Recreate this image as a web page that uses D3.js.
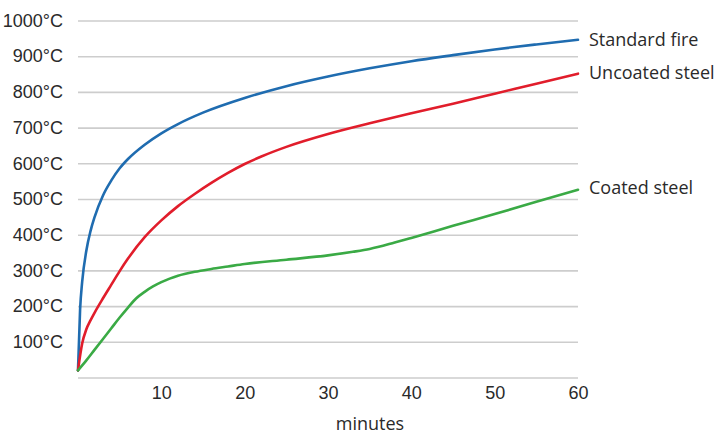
<!DOCTYPE html>
<html lang="en">
<head>
<meta charset="utf-8">
<title>Steel temperature in fire</title>
<script src="https://d3js.org/d3.v7.min.js"></script>
<style>
  body { margin: 0; background: #fff; }
  svg { display: block; font-family: "Open Sans", sans-serif; }
  .grid line { stroke: #cdcdcd; stroke-width: 1.6; }
  .grid path { display: none; }
  .axis path { display: none; }
  .axis text { fill: #2a2a2a; font-size: 18px; }
</style>
</head>
<body>
<script>
  // minutes and temperatures (°C)
  const fireMinutes = [0, 0.25, 0.5, 1, 1.5, 2, 3, 4, 5, 6, 8, 10, 12, 15, 20, 25, 30, 35, 40, 45, 50, 55, 60]
  const fireTemps = [20, 190, 268, 355, 410, 450, 510, 552, 586, 612, 652, 684, 710, 742, 783, 816, 843, 866, 886, 903, 919, 933, 946]

  const uncoatedMinutes = [0, 0.5, 1, 1.5, 2, 3, 4, 5, 6, 8, 10, 12, 14, 16, 18, 20, 22, 25, 30, 35, 40, 45, 50, 55, 60]
  const uncoatedTemps = [20, 95, 135, 160, 182, 222, 260, 298, 333, 393, 440, 480, 514, 545, 573, 598, 619, 646, 682, 712, 740, 767, 795, 823, 851]

  const coatedMinutes = [0, 1, 2, 3, 4, 5, 6, 7, 8, 9, 10, 11, 12, 14, 16, 18, 20, 25, 30, 33, 35, 38, 40, 45, 50, 55, 60]
  const coatedTemps = [20, 48, 78, 108, 138, 168, 196, 222, 240, 255, 267, 277, 285, 296, 304, 311, 318, 330, 342, 352, 360, 378, 391, 425, 458, 492, 526]

  const seriesNames = ["Standard fire", "Uncoated steel", "Coated steel"]
  const seriesColors = ["#1f6cb0", "#e11d2b", "#3aaa45"]
  const xTicks = [10, 20, 30, 40, 50, 60]
  const yTicks = [100, 200, 300, 400, 500, 600, 700, 800, 900, 1000]

  const m = { width: 720, height: 436 }

  const svg = d3.select("body").append("svg")
    .attr("width", m.width)
    .attr("height", m.height)

  const x = d3.scaleLinear().domain([0, 60]).range([78, 578])
  const y = d3.scaleLinear().domain([0, 1000]).range([377.5, 20.5])

  // horizontal grid lines, including the 0 baseline
  svg.append("g")
    .attr("class", "grid")
    .attr("transform", "translate(78,0)")
    .call(d3.axisLeft(y).tickValues([0].concat(yTicks)).tickSize(-500).tickFormat(""))

  // y labels
  svg.append("g")
    .attr("class", "axis")
    .attr("transform", "translate(63,0)")
    .call(d3.axisLeft(y).tickValues(yTicks).tickSize(0).tickPadding(0).tickFormat(d => d + "°C"))

  // x labels
  svg.append("g")
    .attr("class", "axis")
    .attr("transform", "translate(0,377.5)")
    .call(d3.axisBottom(x).tickValues(xTicks).tickSize(0).tickPadding(9))

  svg.append("text")
    .attr("x", 370)
    .attr("y", 430)
    .attr("text-anchor", "middle")
    .attr("fill", "#2a2a2a")
    .attr("font-size", 18)
    .text("minutes")

  const series = [
    d3.zip(fireMinutes, fireTemps),
    d3.zip(uncoatedMinutes, uncoatedTemps),
    d3.zip(coatedMinutes, coatedTemps)
  ]

  const line = d3.line()
    .x(d => x(d[0]))
    .y(d => y(d[1]))
    .curve(d3.curveMonotoneX)

  svg.selectAll(".series")
    .data(series)
    .enter()
    .append("path")
    .attr("class", "series")
    .attr("fill", "none")
    .attr("stroke", (d, i) => seriesColors[i])
    .attr("stroke-width", 2.6)
    .attr("stroke-linecap", "round")
    .attr("d", line)

  // labels at line ends
  svg.selectAll(".label")
    .data(series)
    .enter()
    .append("text")
    .attr("class", "label")
    .attr("x", 589)
    .attr("y", (d, i) => [40, 73, 188][i])
    .attr("dy", "0.35em")
    .attr("fill", "#2a2a2a")
    .attr("font-size", 18)
    .text((d, i) => seriesNames[i])
</script>
</body>
</html>
